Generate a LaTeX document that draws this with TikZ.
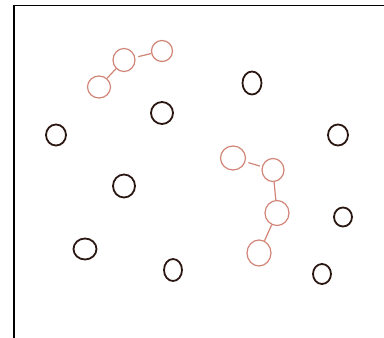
\documentclass[tikz,border=0pt]{standalone}
\usetikzlibrary{shapes.geometric}
\definecolor{ink}{HTML}{2B1712}
\definecolor{redink}{HTML}{D28577}
\tikzset{
  blk/.style={draw=ink, line width=1.8pt, ellipse, inner sep=0pt, minimum width=20pt, minimum height=21pt},
  red/.style={draw=redink, line width=1.2pt, ellipse, inner sep=0pt, minimum width=23pt, minimum height=23pt},
  link/.style={draw=redink, line width=1.2pt},
  frame/.style={draw=black, line width=1.8pt}
}
\begin{document}
\begin{tikzpicture}[x=1pt,y=-1pt]
\useasboundingbox (0,0) rectangle (384,338);
\fill[white] (0,0) rectangle (384,338);
\coordinate (fb) at (14,338);
\coordinate (fc) at (14,5.5);
\coordinate (fr) at (384,5.5);
\draw[frame] (fb) -- (fc) -- (fr);
% black circles
\node[blk, minimum width=19pt, minimum height=23pt] (k1) at (252,83) {};
\node[blk, minimum width=22pt, minimum height=22pt] (k2) at (162,113) {};
\node[blk] (k3) at (56,135) {};
\node[blk] (k4) at (338,135) {};
\node[blk, minimum width=22pt, minimum height=23pt] (k5) at (124,186) {};
\node[blk, minimum width=18pt, minimum height=19pt] (k6) at (343,217) {};
\node[blk, minimum width=23pt, minimum height=21pt] (k7) at (85,249) {};
\node[blk, minimum width=18pt, minimum height=22pt] (k8) at (173,270) {};
\node[blk, minimum width=18pt, minimum height=20pt] (k9) at (322,274) {};
% red chain 1
\node[red, minimum width=23pt, minimum height=22pt] (a) at (99,87) {};
\node[red, minimum width=22pt, minimum height=23pt] (b) at (124,60) {};
\node[red, minimum width=21pt, minimum height=21pt] (c) at (162,51) {};
\draw[link] (a) -- (b);
\draw[link, shorten <=3pt] (b) -- (c);
% red chain 2
\node[red, minimum width=25pt, minimum height=24pt] (d) at (233,158) {};
\node[red, minimum width=22pt, minimum height=23pt] (e) at (273,170) {};
\node[red, minimum width=24pt, minimum height=25pt] (f) at (277,213) {};
\node[red, minimum width=24pt, minimum height=26pt] (g) at (259,253) {};
\draw[link, shorten <=3pt, shorten >=2pt] (d) -- (e);
\draw[link] (e) -- (f);
\draw[link] (f) -- (g);
\end{tikzpicture}
\end{document}
